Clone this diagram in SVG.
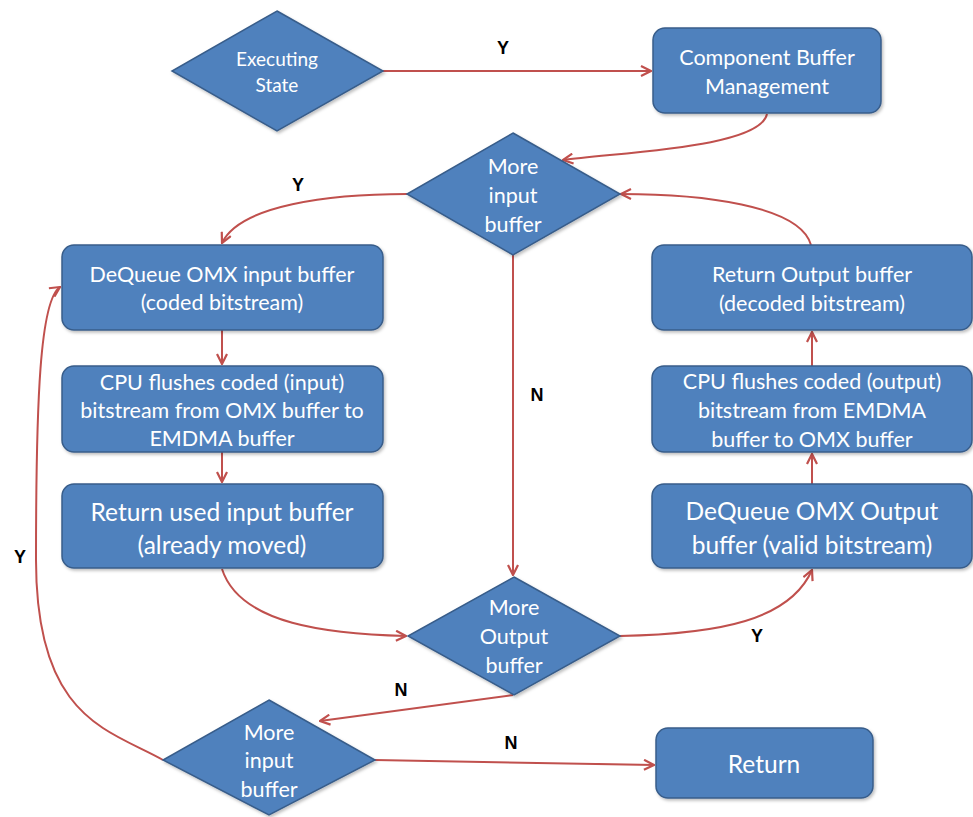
<svg xmlns="http://www.w3.org/2000/svg" width="973" height="817" viewBox="0 0 973 817">
  <defs>
    <marker id="arr" viewBox="0 0 12 12" refX="11" refY="6" markerWidth="12" markerHeight="12" markerUnits="userSpaceOnUse" orient="auto">
      <path d="M1,1 L11,6 L1,11" fill="none" stroke="#C0504D" stroke-width="2.2" stroke-linejoin="miter"/>
    </marker>
    <filter id="sh" x="-10%" y="-10%" width="120%" height="130%">
      <feDropShadow dx="1.5" dy="2" stdDeviation="1.5" flood-color="#000" flood-opacity="0.25"/>
    </filter>
  </defs>
  <style>
    .shape { fill: #4F81BD; stroke: #385D8A; stroke-width: 1.5; filter: url(#sh); }
    .t { fill: #FFFFFF; font-family: Lato, "Open Sans", sans-serif; text-anchor: middle; }
    .s17 { font-size: 19px; }
    .s19 { font-size: 21.5px; }
    .s22 { font-size: 24.5px; }
    .lbl { fill: #000; font-family: "Liberation Sans", Arial, sans-serif; font-weight: bold; font-size: 18px; text-anchor: middle; }
    .c { fill: none; stroke: #C0504D; stroke-width: 2; }
  </style>
  <rect width="973" height="817" fill="#FFFFFF"/>

  <g id="connectors">
    <path class="c" d="M383,71 L651,71" marker-end="url(#arr)"/>
    <path class="c" d="M767,114 C760,148 620,152 563,160" marker-end="url(#arr)"/>
    <path class="c" d="M811,245 C800,205 700,194 621,194" marker-end="url(#arr)"/>
    <path class="c" d="M407,194 C330,194 240,205 222,243" marker-end="url(#arr)"/>
    <path class="c" d="M222,330 L222,364" marker-end="url(#arr)"/>
    <path class="c" d="M222,452 L222,482" marker-end="url(#arr)"/>
    <path class="c" d="M812,366 L812,332" marker-end="url(#arr)"/>
    <path class="c" d="M812,484 L812,454" marker-end="url(#arr)"/>
    <path class="c" d="M513,255 L513,575" marker-end="url(#arr)"/>
    <path class="c" d="M222,569 C240,625 330,634 406,636" marker-end="url(#arr)"/>
    <path class="c" d="M620,636 C720,634 790,620 812,570" marker-end="url(#arr)"/>
    <path class="c" d="M513,695 L320,721" marker-end="url(#arr)"/>
    <path class="c" d="M375,760 L654,765" marker-end="url(#arr)"/>
    <path class="c" d="M163,760 C110,730 36,720 36,560 C36,400 40,300 60,287" marker-end="url(#arr)"/>
    <text class="lbl" x="503" y="54">Y</text>
    <text class="lbl" x="298" y="191">Y</text>
    <text class="lbl" x="537" y="401">N</text>
    <text class="lbl" x="757" y="642">Y</text>
    <text class="lbl" x="401" y="696">N</text>
    <text class="lbl" x="511" y="749">N</text>
    <text class="lbl" x="20" y="563">Y</text>
  </g>

  <g id="executing-state">
    <polygon class="shape" points="277,11 383,71 277,131 172,71"/>
    <text class="t s17" x="277" y="66">Executing</text>
    <text class="t s17" x="277" y="92">State</text>
  </g>

  <g id="component-buffer-management">
    <rect class="shape" x="653" y="28" width="228" height="85" rx="12"/>
    <text class="t s19" x="767" y="65">Component Buffer</text>
    <text class="t s19" x="767" y="94">Management</text>
  </g>

  <g id="more-input-top">
    <polygon class="shape" points="513,133 620,194 513,255 407,194"/>
    <text class="t s19" x="513" y="174">More</text>
    <text class="t s19" x="513" y="203">input</text>
    <text class="t s19" x="513" y="232">buffer</text>
  </g>

  <g id="dequeue-input">
    <rect class="shape" x="62" y="245" width="321" height="85" rx="12"/>
    <text class="t s19" x="222" y="282">DeQueue OMX input buffer</text>
    <text class="t s19" x="222" y="310">(coded bitstream)</text>
  </g>

  <g id="cpu-flush-input">
    <rect class="shape" x="62" y="366" width="321" height="86" rx="12"/>
    <text class="t s19" x="222" y="390">CPU flushes coded (input)</text>
    <text class="t s19" x="222" y="418">bitstream from OMX buffer to</text>
    <text class="t s19" x="222" y="446">EMDMA buffer</text>
  </g>

  <g id="return-used-input">
    <rect class="shape" x="62" y="484" width="321" height="84" rx="12"/>
    <text class="t s22" x="222" y="521">Return used input buffer</text>
    <text class="t s22" x="222" y="554">(already moved)</text>
  </g>

  <g id="return-output">
    <rect class="shape" x="652" y="245" width="320" height="85" rx="12"/>
    <text class="t s19" x="812" y="282">Return Output buffer</text>
    <text class="t s19" x="812" y="311">(decoded bitstream)</text>
  </g>

  <g id="cpu-flush-output">
    <rect class="shape" x="652" y="366" width="320" height="86" rx="12"/>
    <text class="t s19" x="812" y="389">CPU flushes coded (output)</text>
    <text class="t s19" x="812" y="418">bitstream from EMDMA</text>
    <text class="t s19" x="812" y="447">buffer to OMX buffer</text>
  </g>

  <g id="dequeue-output">
    <rect class="shape" x="652" y="484" width="320" height="84" rx="12"/>
    <text class="t s22" x="812" y="520">DeQueue OMX Output</text>
    <text class="t s22" x="812" y="554">buffer (valid bitstream)</text>
  </g>

  <g id="more-output">
    <polygon class="shape" points="514,577 620,636 514,695 408,636"/>
    <text class="t s19" x="514" y="615">More</text>
    <text class="t s19" x="514" y="644">Output</text>
    <text class="t s19" x="514" y="673">buffer</text>
  </g>

  <g id="more-input-bottom">
    <polygon class="shape" points="269,700 375,760 269,815 163,760"/>
    <text class="t s19" x="269" y="740">More</text>
    <text class="t s19" x="269" y="768">input</text>
    <text class="t s19" x="269" y="797">buffer</text>
  </g>

  <g id="return">
    <rect class="shape" x="656" y="728" width="217" height="70" rx="12"/>
    <text class="t s22" x="764" y="773">Return</text>
  </g>
</svg>
